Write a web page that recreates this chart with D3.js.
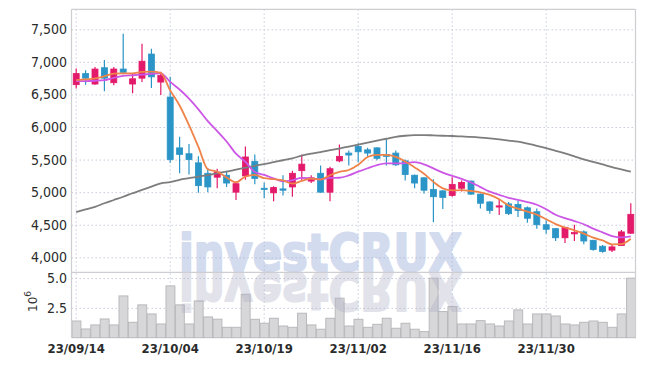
<!DOCTYPE html>
<html>
<head>
<meta charset="utf-8">
<script src="https://cdn.jsdelivr.net/npm/d3@7"></script>
<style>
  body { margin: 0; background: #fff; }
  .grid line { stroke: #c9ccdc; stroke-dasharray: 1.5 2.5; }
  .grid path { display: none; }
  .lbl text { font-family: "DejaVu Sans Condensed", "DejaVu Sans", sans-serif; font-size: 14px; fill: #2b2b2b; }
  .lbl path, .lbl line { display: none; }
</style>
</head>
<body>
<script>
// Trading days shown (yy/mm/dd)
const dates = ["23/09/14","23/09/15","23/09/18","23/09/19","23/09/20","23/09/21","23/09/22","23/09/25","23/09/26","23/09/27",
  "23/10/04","23/10/05","23/10/06","23/10/10","23/10/11","23/10/12","23/10/13","23/10/16","23/10/17","23/10/18",
  "23/10/19","23/10/20","23/10/23","23/10/24","23/10/25","23/10/26","23/10/27","23/10/30","23/10/31","23/11/01",
  "23/11/02","23/11/03","23/11/06","23/11/07","23/11/08","23/11/09","23/11/10","23/11/13","23/11/14","23/11/15",
  "23/11/16","23/11/17","23/11/20","23/11/21","23/11/22","23/11/23","23/11/24","23/11/27","23/11/28","23/11/29",
  "23/11/30","23/12/01","23/12/04","23/12/05","23/12/06","23/12/07","23/12/08","23/12/11","23/12/12","23/12/13"];

const opens = [6650,6820,6660,6910,6680,6890,6660,6750,7120,6690,
  6460,5680,5590,5450,5290,5230,5260,5000,5250,5470,
  5060,4990,5050,5080,5330,5170,5290,5000,5480,5600,
  5700,5650,5680,5580,5600,5480,5260,5220,5040,5020,
  4950,5060,5170,4970,4850,4780,4820,4810,4760,4700,
  4500,4440,4300,4360,4390,4260,4170,4110,4180,4370];
const highs = [6900,6870,6920,7030,6920,7430,6820,7280,7200,6850,
  6770,5850,5740,5550,5370,5360,5330,5150,5700,5580,
  5150,5090,5260,5330,5580,5260,5410,5390,5730,5640,
  5750,5680,5690,5810,5640,5500,5270,5230,5200,5030,
  5230,5180,5180,4980,4860,4890,4850,4870,4780,4750,
  4570,4450,4470,4500,4410,4270,4190,4200,4420,4830];
const lows = [6590,6650,6650,6550,6640,6810,6520,6690,6600,6490,
  5450,5290,5270,4990,5000,5060,5080,4880,5190,5120,
  4910,4860,4950,4930,5180,5140,4990,4860,5460,5410,
  5460,5540,5490,5410,5400,5180,5060,4980,4540,4740,
  4930,5010,4960,4750,4670,4650,4650,4620,4530,4440,
  4360,4250,4220,4250,4200,4100,4070,4080,4180,4360];
const closes = [6820,6750,6890,6750,6890,6840,6740,7010,6770,6790,
  5500,5580,5500,5100,5080,5310,5140,5130,5540,5210,
  5050,5070,5030,5290,5430,5220,5000,5360,5550,5570,
  5620,5600,5520,5550,5420,5270,5140,5030,4930,4920,
  5120,5150,4970,4830,4720,4790,4670,4720,4600,4500,
  4430,4300,4460,4380,4250,4120,4090,4160,4390,4660];

// Volume in millions of shares
const volumes = [1.40,0.73,1.07,1.57,1.07,3.50,1.29,2.75,1.99,1.15,
  4.34,2.75,1.15,3.08,1.74,1.55,0.87,0.87,3.64,1.54,
  1.21,1.63,0.98,0.87,2.05,1.07,0.71,1.63,3.31,0.98,
  1.54,0.87,1.12,1.63,0.79,1.21,0.71,0.51,4.99,2.19,
  2.61,1.15,1.15,1.43,1.15,0.98,1.40,2.33,1.15,1.99,
  1.99,1.82,1.15,1.07,1.29,1.40,1.29,0.87,1.99,4.99];

// Moving averages as plotted
const ma5 = [6720,6730,6745,6780,6820,6824,6822,6846,6850,6830,
  6562,6330,6028,5694,5352,5314,5226,5152,5240,5266,
  5214,5200,5180,5130,5174,5208,5194,5260,5312,5340,
  5420,5540,5572,5572,5542,5472,5380,5282,5158,5058,
  5028,5030,5018,4998,4958,4892,4796,4746,4700,4656,
  4584,4510,4458,4414,4364,4302,4260,4200,4202,4284];
const ma10 = [6705,6705,6710,6720,6755,6785,6795,6805,6815,6825,
  6693,6576,6437,6272,6091,5938,5778,5590,5467,5309,
  5264,5213,5166,5185,5220,5211,5197,5220,5221,5257,
  5314,5367,5416,5442,5441,5446,5460,5427,5365,5300,
  5250,5205,5150,5078,5008,4960,4913,4882,4849,4807,
  4738,4653,4602,4557,4508,4441,4383,4327,4306,4322];
const maLong = [4695,4735,4775,4830,4880,4930,4983,5035,5085,5136,
  5155,5190,5215,5240,5260,5290,5315,5345,5375,5405,
  5430,5460,5490,5520,5560,5590,5615,5645,5670,5700,
  5730,5760,5790,5820,5850,5866,5875,5877,5872,5866,
  5862,5855,5848,5838,5825,5810,5792,5775,5745,5712,
  5675,5635,5595,5550,5505,5465,5425,5385,5350,5315];

const priceTicks = [4000, 4500, 5000, 5500, 6000, 6500, 7000, 7500];
const volTicks = [2.5, 5.0];
const dateTicks = ["23/09/14","23/10/04","23/10/19","23/11/02","23/11/16","23/11/30"];

const W = 645, H = 366;
const left = 71.5, right = 635.5;
const priceTop = 9.3, priceBottom = 272.3, volBottom = 337.7;

const svg = d3.select("body").append("svg")
    .attr("width", W)
    .attr("height", H);

const x = d3.scaleBand().domain(dates).range([left, right]).padding(0);
const cx = d => x(d) + x.bandwidth() / 2;

const y = d3.scaleLinear().domain([3770, 7807]).range([priceBottom, priceTop]);
const yv = d3.scaleLinear().domain([0, 5.48]).range([volBottom, priceBottom]);

// Horizontal grid
svg.append("g")
    .attr("class", "grid")
    .attr("transform", `translate(${left},0)`)
    .call(d3.axisLeft(y).tickValues(priceTicks).tickSize(-(right - left)).tickFormat(""));
svg.append("g")
    .attr("class", "grid")
    .attr("transform", `translate(${left},0)`)
    .call(d3.axisLeft(yv).tickValues(volTicks).tickSize(-(right - left)).tickFormat(""));

// Vertical grid
svg.append("g")
    .attr("class", "grid")
    .selectAll("line")
    .data(dateTicks)
    .enter()
    .append("line")
    .attr("x1", d => cx(d))
    .attr("x2", d => cx(d))
    .attr("y1", priceTop)
    .attr("y2", volBottom);

// Watermark (heavy text: fill + stroke, faded as a whole)
function watermark(g, fill, opacity) {
  return g.append("text")
      .attr("x", 179)
      .attr("y", priceBottom - 1)
      .attr("textLength", 283)
      .attr("lengthAdjust", "spacingAndGlyphs")
      .style("font-family", "'DejaVu Sans', sans-serif")
      .style("font-weight", "bold")
      .style("font-size", "52px")
      .style("fill", fill)
      .style("stroke", fill)
      .style("stroke-width", 2.2)
      .style("stroke-linejoin", "round")
      .style("opacity", opacity)
      .text("investCRUX");
}
watermark(svg, "#9fb0dc", 0.45);

// Volume bars
svg.append("g")
    .selectAll("rect")
    .data(dates)
    .enter()
    .append("rect")
    .attr("x", d => x(d) + 0.5)
    .attr("width", x.bandwidth() - 0.5)
    .attr("y", (d, i) => yv(volumes[i]))
    .attr("height", (d, i) => volBottom - yv(volumes[i]))
    .style("fill", "#d7d7d9")
    .style("stroke", "#b9b9bd")
    .style("stroke-width", 1);

// Watermark reflection
watermark(svg, "#a8acc2", 0.33)
    .attr("transform", `translate(0,${2 * priceBottom}) scale(1,-1)`);

// Candles
const upColor = "#e3196a", downColor = "#2b95c7";
const candles = svg.append("g")
    .selectAll("g")
    .data(dates)
    .enter()
    .append("g")
    .style("stroke", (d, i) => closes[i] >= opens[i] ? upColor : downColor)
    .style("fill", (d, i) => closes[i] >= opens[i] ? upColor : downColor);

candles.append("line")
    .attr("x1", d => cx(d))
    .attr("x2", d => cx(d))
    .attr("y1", (d, i) => y(highs[i]))
    .attr("y2", (d, i) => y(lows[i]))
    .style("stroke-width", 1.2);

candles.append("rect")
    .attr("x", d => cx(d) - 3)
    .attr("width", 6)
    .attr("y", (d, i) => y(Math.max(opens[i], closes[i])))
    .attr("height", (d, i) => Math.max(1.2, Math.abs(y(opens[i]) - y(closes[i]))))
    .style("stroke-width", 0.8);

// Moving average lines
const line = d3.line()
    .x((v, i) => cx(dates[i]))
    .y(v => y(v))
    .curve(d3.curveMonotoneX);

[[maLong, "#7d7d7d"], [ma10, "#cc56e6"], [ma5, "#ef8349"]].forEach(([vals, col]) => {
  svg.append("path")
      .attr("d", line(vals))
      .style("fill", "none")
      .style("stroke", col)
      .style("stroke-width", 1.8);
});

// Frame
const frame = svg.append("g").style("stroke", "#cdcdd2").style("stroke-width", 1.2).style("fill", "none");
frame.append("line").attr("x1", left).attr("x2", right).attr("y1", priceTop).attr("y2", priceTop);
frame.append("line").attr("x1", left).attr("x2", right).attr("y1", priceBottom).attr("y2", priceBottom);
frame.append("line").attr("x1", left).attr("x2", left).attr("y1", priceTop).attr("y2", volBottom);
frame.append("line").attr("x1", right).attr("x2", right).attr("y1", priceTop).attr("y2", volBottom);

// Axis labels
svg.append("g")
    .attr("class", "lbl")
    .attr("transform", "translate(67,0)")
    .call(d3.axisLeft(y).tickValues(priceTicks).tickSize(0).tickPadding(0).tickFormat(d3.format(",")));
svg.append("g")
    .attr("class", "lbl")
    .attr("transform", "translate(67,0)")
    .call(d3.axisLeft(yv).tickValues(volTicks).tickSize(0).tickPadding(0).tickFormat(d3.format(".1f")));
svg.append("g")
    .attr("class", "lbl")
    .attr("transform", `translate(0,${volBottom + 2})`)
    .call(d3.axisBottom(x).tickValues(dateTicks).tickSize(0).tickPadding(4))
    .selectAll("text")
    .style("font-size", "13px")
    .style("font-weight", "bold");

// Volume unit
svg.append("text")
    .attr("transform", "translate(37,312) rotate(-90)")
    .style("font-family", "DejaVu Sans, sans-serif")
    .style("font-size", "12px")
    .style("fill", "#333")
    .text("10")
    .append("tspan")
    .attr("dy", -6)
    .style("font-size", "9px")
    .text("6");
</script>
</body>
</html>
